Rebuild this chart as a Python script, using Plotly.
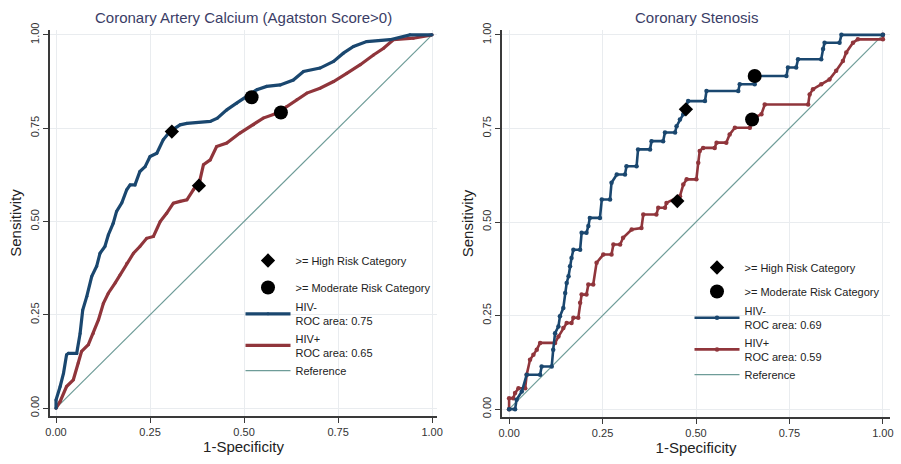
import plotly.graph_objects as go

# ---------------- data ----------------
# Left panel: Coronary Artery Calcium
cac_neg_x = [0, 0, 0.011, 0.02, 0.028, 0.033, 0.055, 0.064, 0.071, 0.082, 0.095, 0.108, 0.117, 0.13, 0.139,
             0.152, 0.161, 0.175, 0.188, 0.197, 0.21, 0.223, 0.237, 0.25, 0.268, 0.285, 0.303, 0.33, 0.348,
             0.41, 0.429, 0.454, 0.48, 0.507, 0.534, 0.56, 0.596, 0.631, 0.658, 0.702, 0.738, 0.764, 0.791,
             0.826, 0.888, 0.941, 1.0]
cac_neg_y = [0, 0.022, 0.058, 0.094, 0.143, 0.147, 0.147, 0.2, 0.263, 0.3, 0.353, 0.38, 0.415, 0.433, 0.464,
             0.495, 0.527, 0.55, 0.585, 0.598, 0.598, 0.634, 0.647, 0.674, 0.683, 0.719, 0.741, 0.759, 0.763,
             0.768, 0.777, 0.799, 0.817, 0.835, 0.853, 0.862, 0.866, 0.879, 0.902, 0.911, 0.929, 0.951, 0.969,
             0.982, 0.987, 1.0, 1.0]
cac_pos_x = [0, 0.011, 0.028, 0.046, 0.059, 0.068, 0.086, 0.099, 0.113, 0.126, 0.139, 0.157, 0.17, 0.188,
             0.206, 0.223, 0.241, 0.259, 0.277, 0.294, 0.312, 0.33, 0.348, 0.365, 0.383, 0.392, 0.41, 0.427,
             0.454, 0.489, 0.525, 0.551, 0.587, 0.613, 0.64, 0.667, 0.702, 0.738, 0.773, 0.809, 0.844, 0.871,
             0.897, 0.95, 1.0]
cac_pos_y = [0, 0.018, 0.058, 0.076, 0.121, 0.152, 0.17, 0.2, 0.237, 0.281, 0.308, 0.335, 0.357, 0.388,
             0.415, 0.433, 0.455, 0.46, 0.5, 0.522, 0.549, 0.554, 0.558, 0.585, 0.612, 0.652, 0.665, 0.701,
             0.71, 0.737, 0.759, 0.777, 0.79, 0.808, 0.826, 0.844, 0.857, 0.875, 0.897, 0.92, 0.946, 0.964,
             0.987, 0.991, 1.0]
cac_high_x = [0.308, 0.38]
cac_high_y = [0.741, 0.596]
cac_mod_x = [0.52, 0.598]
cac_mod_y = [0.833, 0.792]

# Right panel: Coronary Stenosis
cs_neg_x = [0, 0.016, 0.02, 0.034, 0.047, 0.083, 0.087, 0.114, 0.118, 0.123, 0.132, 0.136, 0.145, 0.15,
            0.154, 0.159, 0.163, 0.167, 0.172, 0.19, 0.194, 0.207, 0.212, 0.216, 0.243, 0.248, 0.27, 0.274,
            0.288, 0.31, 0.314, 0.341, 0.345, 0.377, 0.381, 0.412, 0.417, 0.444, 0.448, 0.457, 0.466, 0.479,
            0.524, 0.528, 0.613, 0.617, 0.657, 0.662, 0.742, 0.746, 0.768, 0.773, 0.835, 0.84, 0.844, 0.884,
            0.889, 1.0]
cs_neg_y = [0, 0, 0.025, 0.047, 0.092, 0.092, 0.114, 0.114, 0.159, 0.203, 0.221, 0.248, 0.27, 0.31,
            0.337, 0.355, 0.382, 0.404, 0.426, 0.426, 0.471, 0.471, 0.489, 0.511, 0.511, 0.56, 0.56, 0.605,
            0.627, 0.627, 0.649, 0.649, 0.694, 0.694, 0.716, 0.716, 0.739, 0.739, 0.756, 0.774, 0.788, 0.823,
            0.823, 0.85, 0.85, 0.868, 0.868, 0.89, 0.89, 0.913, 0.913, 0.935, 0.935, 0.962, 0.979, 0.979,
            1.0, 1.0]
cs_pos_x = [0, 0, 0.011, 0.016, 0.025, 0.043, 0.047, 0.056, 0.065, 0.074, 0.083, 0.123, 0.132, 0.145,
            0.154, 0.167, 0.172, 0.185, 0.19, 0.194, 0.207, 0.212, 0.225, 0.234, 0.252, 0.274, 0.279, 0.297,
            0.305, 0.328, 0.354, 0.359, 0.394, 0.399, 0.417, 0.421, 0.457, 0.466, 0.475, 0.501, 0.506, 0.51,
            0.519, 0.55, 0.555, 0.581, 0.59, 0.604, 0.644, 0.648, 0.675, 0.684, 0.8, 0.804, 0.813, 0.835,
            0.857, 0.875, 0.893, 0.902, 0.92, 0.933, 1.0, 1.0]
cs_pos_y = [0, 0.029, 0.029, 0.043, 0.056, 0.056, 0.092, 0.132, 0.145, 0.159, 0.177, 0.177, 0.194, 0.217,
            0.23, 0.23, 0.244, 0.244, 0.284, 0.306, 0.306, 0.333, 0.333, 0.391, 0.413, 0.413, 0.44, 0.44,
            0.458, 0.48, 0.484, 0.52, 0.52, 0.538, 0.538, 0.551, 0.569, 0.6, 0.614, 0.614, 0.658, 0.69,
            0.698, 0.698, 0.712, 0.712, 0.734, 0.752, 0.752, 0.774, 0.788, 0.814, 0.814, 0.841, 0.855, 0.868,
            0.881, 0.904, 0.93, 0.953, 0.979, 0.988, 0.988, 1.0]
cs_high_x = [0.473, 0.45]
cs_high_y = [0.801, 0.556]
cs_mod_x = [0.657, 0.65]
cs_mod_y = [0.89, 0.774]

ref_line = [0, 1]
ticks = [0, 0.25, 0.5, 0.75, 1.0]
tick_labels = ["0.00", "0.25", "0.50", "0.75", "1.00"]

titles = ["Coronary Artery Calcium (Agatston Score>0)", "Coronary Stenosis"]
auc_neg = ["0.75", "0.69"]
auc_pos = ["0.65", "0.59"]

# ---------------- style ----------------
BLUE = "#1a476f"
RED = "#90353b"
REF = "#6e9c98"
FONT = "Liberation Sans, Arial, sans-serif"
W, H = 901, 464


def px_x(v):
    return v / W


def px_y(v):
    return 1 - v / H


fig = go.Figure()

panels = [
    dict(neg=(cac_neg_x, cac_neg_y), pos=(cac_pos_x, cac_pos_y), high=(cac_high_x, cac_high_y),
         mod=(cac_mod_x, cac_mod_y), xa="x", ya="y", lg_m="legend", lg_c="legend2", lw=3.2, ms=3),
    dict(neg=(cs_neg_x, cs_neg_y), pos=(cs_pos_x, cs_pos_y), high=(cs_high_x, cs_high_y),
         mod=(cs_mod_x, cs_mod_y), xa="x2", ya="y2", lg_m="legend3", lg_c="legend4", lw=2.6, ms=4.5),
]

for i, p in enumerate(panels):
    common = dict(xaxis=p["xa"], yaxis=p["ya"], hoverinfo="skip")
    fig.add_trace(go.Scatter(x=ref_line, y=ref_line, mode="lines", name="Reference",
                             line=dict(color=REF, width=1.2), legendgroup=f"r{i}",
                             legendrank=5, legend=p["lg_c"], **common))
    fig.add_trace(go.Scatter(x=p["pos"][0], y=p["pos"][1], mode="lines+markers",
                             name=f"HIV+<br>ROC area: {auc_pos[i]}",
                             line=dict(color=RED, width=p["lw"]),
                             marker=dict(color=RED, size=p["ms"]), legendgroup=f"p{i}",
                             legendrank=4, legend=p["lg_c"], **common))
    fig.add_trace(go.Scatter(x=p["neg"][0], y=p["neg"][1], mode="lines+markers",
                             name=f"HIV-<br>ROC area: {auc_neg[i]}",
                             line=dict(color=BLUE, width=p["lw"]),
                             marker=dict(color=BLUE, size=p["ms"]), legendgroup=f"n{i}",
                             legendrank=3, legend=p["lg_c"], **common))
    fig.add_trace(go.Scatter(x=p["high"][0], y=p["high"][1], mode="markers",
                             name=">= High Risk Category",
                             marker=dict(symbol="diamond", color="black", size=11),
                             legendgroup=f"h{i}", legendrank=1, legend=p["lg_m"], **common))
    fig.add_trace(go.Scatter(x=p["mod"][0], y=p["mod"][1], mode="markers",
                             name=">= Moderate Risk Category",
                             marker=dict(symbol="circle", color="black", size=14),
                             legendgroup=f"m{i}", legendrank=2, legend=p["lg_m"], **common))

axis_common = dict(
    tickvals=ticks, ticktext=tick_labels, showgrid=True, gridcolor="#e9ecef", gridwidth=1,
    zeroline=False, showline=True, linecolor="#3a3a3a", linewidth=1.5,
    ticks="outside", ticklen=5, tickcolor="#3a3a3a", tickwidth=1.2,
    tickfont=dict(family=FONT, size=11, color="#333333"),
    fixedrange=True, automargin=False,
)


def legend_at(x_px, y_px, gap, order):
    return dict(x=px_x(x_px), y=px_y(y_px), font=dict(family=FONT, size=11, color="#222222"),
                bgcolor="rgba(0,0,0,0)", tracegroupgap=gap, itemwidth=45, xanchor="left",
                yanchor="top", traceorder=order)


title_font = dict(family=FONT, size=15, color="#222222")

fig.update_layout(
    width=W, height=H, margin=dict(l=0, r=0, t=0, b=0, autoexpand=False),
    paper_bgcolor="white", plot_bgcolor="white",
    font=dict(family=FONT),
    xaxis=dict(domain=[px_x(50), px_x(437)], range=[-0.016, 1.013],
               title=dict(text="1-Specificity", font=title_font, standoff=4),
               anchor="y", **axis_common),
    yaxis=dict(domain=[px_y(416), px_y(30)], range=[-0.021, 1.013], tickangle=-90,
               title=dict(text="Sensitivity", font=title_font, standoff=4),
               anchor="x", **axis_common),
    xaxis2=dict(domain=[px_x(502), px_x(890)], range=[-0.019, 1.019],
                title=dict(text="1-Specificity", font=title_font, standoff=4),
                anchor="y2", **axis_common),
    yaxis2=dict(domain=[px_y(417), px_y(30)], range=[-0.021, 1.013], tickangle=-90,
                title=dict(text="Sensitivity", font=title_font, standoff=4),
                anchor="x2", **axis_common),
    legend=legend_at(240.5, 246, 8, "grouped"),
    legend2=legend_at(240.5, 293, 0, "normal"),
    legend3=legend_at(689.5, 253, 5, "grouped"),
    legend4=legend_at(689.5, 297, 0, "normal"),
    showlegend=True,
    annotations=[
        dict(text=titles[0], x=px_x((50 + 437) / 2), y=px_y(17), xref="paper", yref="paper",
             showarrow=False, font=dict(family=FONT, size=15, color="#3a3d66"), xanchor="center",
             yanchor="middle"),
        dict(text=titles[1], x=px_x((502 + 890) / 2), y=px_y(17), xref="paper", yref="paper",
             showarrow=False, font=dict(family=FONT, size=15, color="#3a3d66"), xanchor="center",
             yanchor="middle"),
    ],
)

fig.write_html("out.html", config={"displayModeBar": False},
               post_script="document.body.style.margin='0';")
